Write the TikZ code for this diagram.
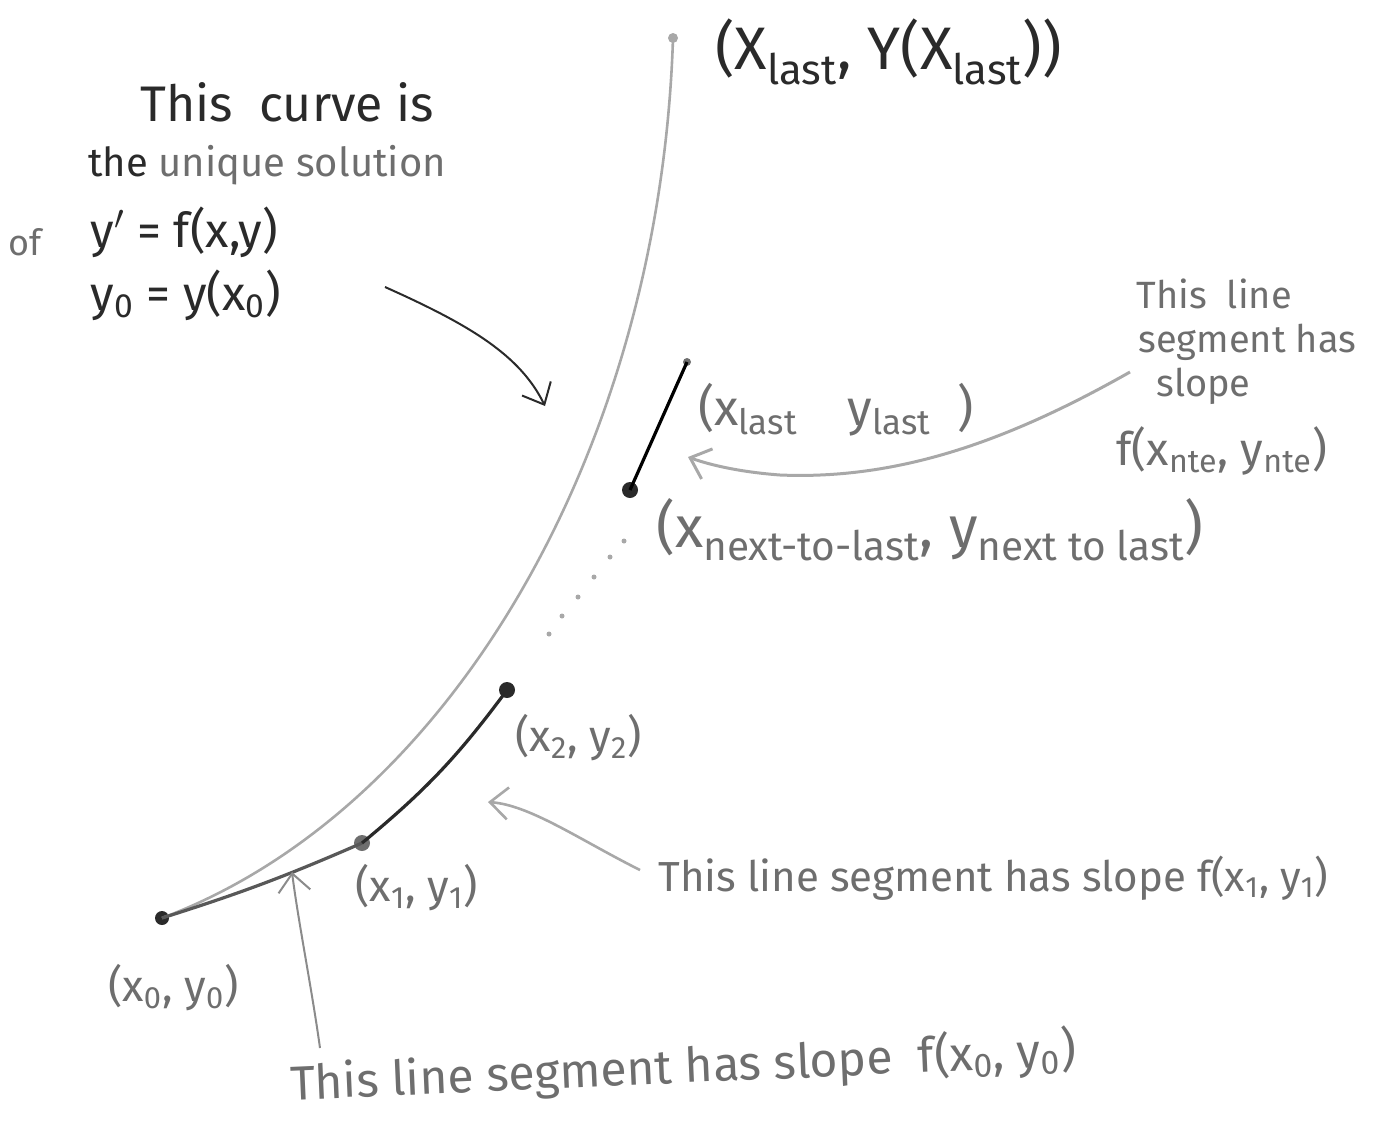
\documentclass[tikz,border=0pt]{standalone}
\usepackage{fontspec}
\setmainfont{Fira Sans}
\usetikzlibrary{arrows.meta}
\newcommand\lsub[1]{\textsubscript{#1}}
\newcommand\fs[1]{\fontsize{#1}{#1}\selectfont}
\definecolor{ink}{HTML}{2A2A2A}
\definecolor{pencil}{HTML}{6E6E6E}
\definecolor{light}{HTML}{A8A8A8}
\begin{document}
\begin{tikzpicture}[x=0.5pt,y=-0.5pt,
  txt/.style={inner sep=0pt, anchor=west},
  dot/.style={circle, fill=#1, inner sep=0pt, minimum size=7pt},
  smalldot/.style={circle, fill=light, inner sep=0pt, minimum size=2.5pt},
  solcurve/.style={draw=light, line width=1.3pt},
  seg/.style={draw=ink, line width=1.6pt},
  handarrow/.style={line width=1pt, -{Straight Barb[length=9pt,width=16pt]}}
]
\useasboundingbox (0,0) rectangle (1379,1120);

% points
\node[dot=ink] (p0) at (162,918) {};
\node[dot=pencil, minimum size=8pt] (p1) at (362,843) {};
\node[dot=ink, minimum size=8pt] (p2) at (507,690) {};
\node[dot=ink, minimum size=8pt] (pnl) at (630,490) {};
\node[dot=pencil, minimum size=4pt] (pl) at (687,362) {};
\node[dot=light, minimum size=5pt] (ptop) at (673,38) {};

% solution curve
\draw[solcurve] (p0.center) .. controls (450,810) and (660,450) .. (ptop.center);

% Euler segments
\draw[seg, draw=pencil!80!black] (p0.center) to[bend right=3] (p1.center);
\draw[seg] (p1.center) to[bend right=7] (p2.center);
\draw[seg, draw=black] (pnl.center) -- (pl.center);

% dots between
\foreach \i/\px/\py in {1/549/634,2/562/616,3/578/597,4/594/577,5/610/557,6/624/541}
  \node[smalldot] (d\i) at (\px,\py) {};

% texts, upper left
\node[txt, text=ink, font=\fs{25}] (t1) at (140,102) {This\ \ curve is};
\node[txt, font=\fs{20}] (t2) at (88,165) {\textcolor{ink}{the} \textcolor{pencil}{unique solution}};
\node[txt, text=pencil, font=\fs{18}] (tof) at (8,242) {of};
\node[txt, text=ink, font=\fs{24}] (t3) at (90,232) {y$'$ = f(x,y)};
\node[txt, text=ink, font=\fs{24}] (t4) at (90,295) {y\lsub{0} = y(x\lsub{0})};

% top label
\node[txt, text=ink, font=\fs{30}] (ttop) at (715,52) {(X\lsub{last}, Y(X\lsub{last}))};

% right block
\node[txt, text=pencil, align=left, anchor=north west, font=\fs{19}] (tr) at (1116,278)
  {\hspace*{10pt}This\ \ line\\[3pt]\hspace*{11pt}segment has\\[3pt]\hspace*{20pt}slope\\[10pt]{\fs{23}f(x\lsub{nte}, y\lsub{nte})}};

\node[txt, text=pencil, font=\fs{25}] (tlast) at (698,410) {(x\lsub{last}\quad y\lsub{last}\ \ )};
\node[txt, text=pencil, font=\fs{29}] (tnl) at (656,530) {(x\lsub{next-to-last}, y\lsub{next to last})};
\node[txt, text=pencil, font=\fs{22}] (tx2) at (515,738) {(x\lsub{2}, y\lsub{2})};
\node[txt, text=pencil, font=\fs{22}] (tx1) at (355,888) {(x\lsub{1}, y\lsub{1})};
\node[txt, text=pencil, font=\fs{22}] (tx0) at (108,988) {(x\lsub{0}, y\lsub{0})};

\node[txt, text=pencil, font=\fs{21}] (ts1) at (658,878) {This line segment has slope f(x\lsub{1}, y\lsub{1})};
\node[txt, text=pencil, rotate=2.5, font=\fs{24}] (ts0) at (290,1085) {This line segment has slope\ \ f(x\lsub{0}, y\lsub{0})};

% arrows
\coordinate (a1s) at (385,287);
\coordinate (a1e) at (545,406);
\draw[handarrow, draw=ink] (a1s) .. controls (470,325) and (520,355) .. (a1e);

\coordinate (a2s) at (1130,372);
\coordinate (a2e) at (688,457);
\draw[handarrow, draw=light, line width=1.5pt] (a2s) .. controls (1010,440) and (900,480) .. (780,475) .. controls (740,472) and (710,465) .. (a2e);

\coordinate (a3s) at (640,870);
\coordinate (a3e) at (488,802);
\draw[handarrow, draw=light, line width=1.3pt] (a3s) .. controls (580,840) and (530,805) .. (a3e);

\coordinate (a4s) at (320,1048);
\coordinate (a4e) at (292,872);
\draw[handarrow, draw=pencil!80] (a4s) .. controls (312,990) and (298,920) .. (a4e);
\end{tikzpicture}
\end{document}
